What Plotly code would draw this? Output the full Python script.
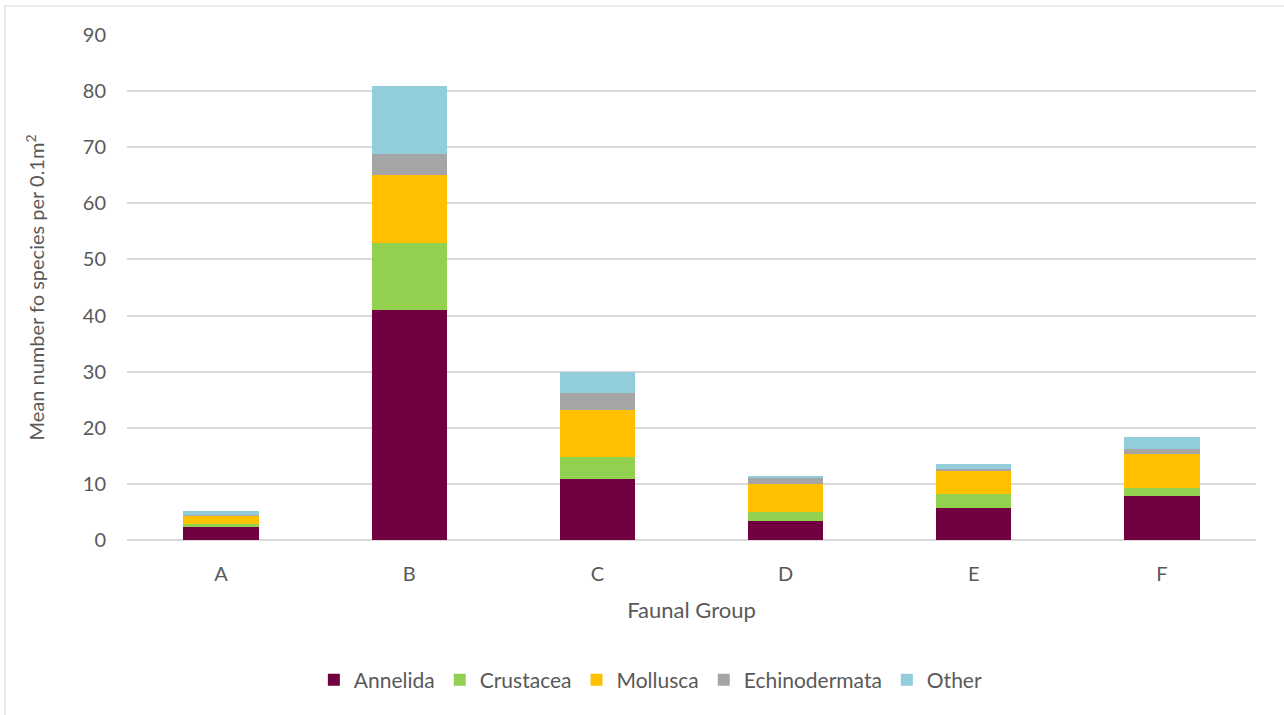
import plotly.graph_objects as go

groups = ["A", "B", "C", "D", "E", "F"]
annelida = [2.4, 41.0, 10.8, 3.4, 5.7, 7.9]
crustacea = [0.4, 12.0, 4.0, 1.6, 2.5, 1.4]
mollusca = [1.6, 12.0, 8.3, 5.0, 4.2, 6.0]
echinodermata = [0.05, 3.8, 3.1, 1.2, 0.3, 0.9]
other = [0.75, 12.2, 3.8, 0.25, 0.8, 2.1]

series = [
    ("Annelida", annelida, "#70003f"),
    ("Crustacea", crustacea, "#92d050"),
    ("Mollusca", mollusca, "#ffc000"),
    ("Echinodermata", echinodermata, "#a5a5a5"),
    ("Other", other, "#92cddc"),
]

font_family = "Lato, 'Open Sans', sans-serif"
text_color = "#595959"

fig = go.Figure()
for name, vals, color in series:
    fig.add_trace(go.Bar(
        name=name, x=groups, y=vals,
        marker=dict(color=color, line=dict(width=0)),
    ))

W, H = 1284, 715
ml, mr, mt, mb = 127, 28, 35, 175
pw, ph = W - ml - mr, H - mt - mb

def px_x(p):
    return (p - ml) / pw

def px_y(p):
    return (H - mb - p) / ph

fig.update_layout(
    width=W, height=H,
    barmode="stack", bargap=0.6,
    paper_bgcolor="white", plot_bgcolor="white",
    margin=dict(l=ml, r=mr, t=mt, b=mb),
    font=dict(family=font_family, color=text_color, size=20),
    xaxis=dict(
        showgrid=False, showline=False, ticks="",
        tickfont=dict(size=20, color=text_color),
        ticklabelstandoff=20,
        title=dict(text="Faunal Group", font=dict(size=22, color=text_color), standoff=18),
    ),
    yaxis=dict(
        range=[0, 90], dtick=10, showgrid=True, gridcolor="#d9d9d9", gridwidth=1.5,
        zeroline=True, zerolinecolor="#d9d9d9", zerolinewidth=1.5,
        showline=False, ticks="",
        tickfont=dict(size=20, color=text_color),
        ticklabelstandoff=20,
        title=dict(text="Mean number fo species per 0.1m<sup>2</sup>",
                   font=dict(size=20, color=text_color), standoff=32),
    ),
    legend=dict(
        orientation="h", x=0.464, xanchor="center", y=px_y(680), yanchor="middle",
        font=dict(size=21, color=text_color), traceorder="normal",
    ),
    shapes=[dict(
        type="rect", xref="paper", yref="paper",
        x0=px_x(5), x1=px_x(1300), y0=px_y(730), y1=px_y(6),
        line=dict(color="#d9d9d9", width=1.2), fillcolor="rgba(0,0,0,0)", layer="below",
    )],
)

fig.write_html("out.html")
